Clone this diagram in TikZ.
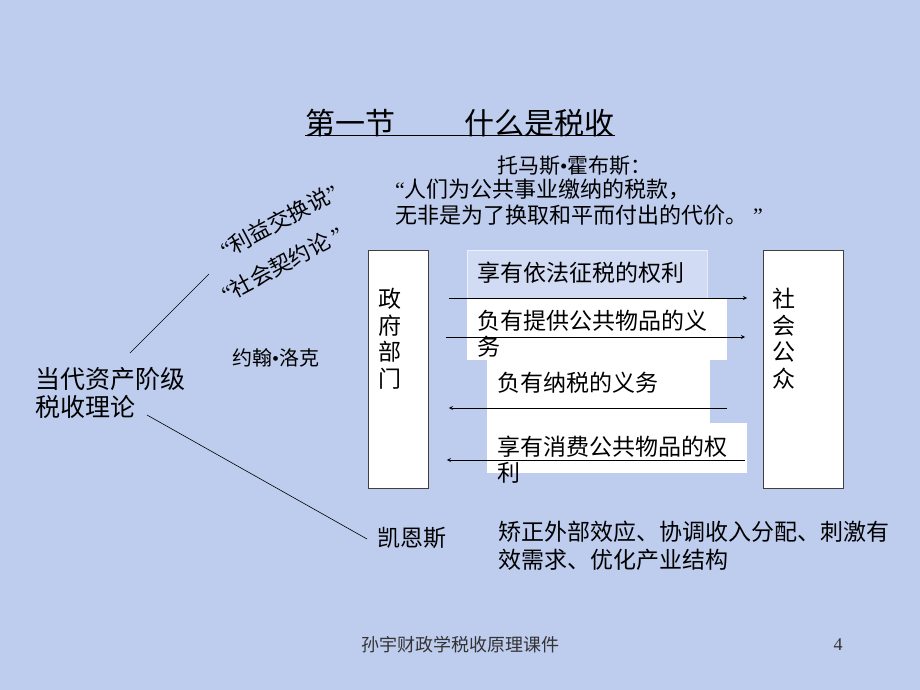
\documentclass[tikz,border=0pt]{standalone}
\usepackage{fontspec}
\setmainfont{Liberation Serif}
\newfontfamily\cjk{Noto Sans CJK SC}
\usetikzlibrary{positioning}
\definecolor{slidebg}{RGB}{190,204,238}
\newcommand\cjksize[2]{\cjk\fontsize{#1}{#2}\selectfont}
\newcommand\qopen{{\rmfamily “}}
\newcommand\qclose{{\rmfamily ”}}
\newcommand\dotmark{{\rmfamily •}}

\begin{document}
\begin{tikzpicture}[x=1pt,y=-1pt,>=stealth,
  every node/.style={inner sep=0pt,font=\cjksize{22}{26}},
  pbox/.style={fill=white,draw=black!75,line width=0.9pt,anchor=north west},
  wbox/.style={fill=white,anchor=north west},
  lbl/.style={anchor=west,align=left,font=\cjksize{23}{26}},
  vtext/.style={anchor=north,align=center,font=\cjksize{23}{26.7}}]
 \fill[slidebg] (0,0) rectangle (920,690);
 \useasboundingbox (0,0) rectangle (920,690);

 % title
 \node[font=\cjksize{30}{36}] (title) at (460,123) {第一节\hspace{69pt}什么是税收};
 \draw[line width=0.8pt] ([yshift=2pt]title.south west) -- ([yshift=2pt]title.south east);

 % hobbes
 \node[anchor=west,font=\cjksize{21}{25}] (hobbes) at (497,166) {托马斯\dotmark 霍布斯：};
 \node[anchor=north west,align=left] (quote) at (395,179)
   {\qopen 人们为公共事业缴纳的税款，\\无非是为了换取和平而付出的代价。\hspace{6pt}\qclose};

 % left side
 \node[anchor=north west,align=left,font=\cjksize{25}{28}] (theory) at (35,367) {当代资产阶级\\税收理论};
 \node[rotate=28,font=\cjksize{22}{26}] (benefit) at (279,221) {\qopen 利益交换说\qclose};
 \node[rotate=28,font=\cjksize{22}{26}] (contract) at (282,264) {\qopen 社会契约论\hspace{4pt}\qclose};
 \node[anchor=west,font=\cjksize{20}{24}] (locke) at (232,358) {约翰\dotmark 洛克};
 \node[anchor=west,font=\cjksize{23}{27}] (keynes) at (377,538) {凯恩斯};
 \node[anchor=north west,align=left,font=\cjksize{23}{28}] (effect) at (498,521)
   {矫正外部效应、协调收入分配、刺激有\\效需求、优化产业结构};

 \coordinate (up0) at (130,353);
 \coordinate (up1) at (209,274);
 \coordinate (dn0) at (147,415);
 \coordinate (dn1) at (367,539);
 \draw[line width=0.6pt] (up0) -- (up1);
 \draw[line width=0.6pt] (dn0) -- (dn1);

 % government and public
 \node[pbox,minimum width=60pt,minimum height=238pt] (gov) at (368,250) {};
 \node[pbox,minimum width=80pt,minimum height=238pt] (pub) at (763,250) {};
 \node[vtext] (govtxt) at (390,288) {政\\府\\部\\门};
 \node[vtext] (pubtxt) at (784,288) {社\\会\\公\\众};

 % rights and duties
 \node[wbox,fill opacity=0.3,draw=white,draw opacity=0.6,minimum width=240pt,minimum height=48pt] (r1) at (467,250) {};
 \node[wbox,minimum width=260pt,minimum height=62pt] (r2) at (467,298) {};
 \node[wbox,minimum width=223pt,minimum height=63pt] (r3) at (487,360) {};
 \node[wbox,minimum width=260pt,minimum height=50pt] (r4) at (487,423) {};
 \node[lbl] (l1) at (477,273) {享有依法征税的权利};
 \node[lbl] (l2) at (477,333.5) {负有提供公共物品的义\\务};
 \node[lbl] (l3) at (497,383) {负有纳税的义务};
 \node[lbl] (l4) at (497,459.5) {享有消费公共物品的权\\利};

 \foreach \y/\s/\t in {298/20pt/16pt,337/17pt/18pt}
   \draw[->,line width=0.8pt,shorten <=\s,shorten >=\t] (gov.east |- 0,\y) -- (pub.west |- 0,\y);
 \foreach \y/\s/\t in {408/36pt/20pt,460/18pt/18pt}
   \draw[->,line width=0.8pt,shorten <=\s,shorten >=\t] (pub.west |- 0,\y) -- (gov.east |- 0,\y);

 % footer
 \node[font=\cjksize{18}{22},text=black!80] (footer) at (460,645) {孙宇财政学税收原理课件};
 \node[font=\rmfamily\fontsize{18}{22}\selectfont,text=black!80] (pageno) at (838,645) {4};
\end{tikzpicture}
\end{document}
